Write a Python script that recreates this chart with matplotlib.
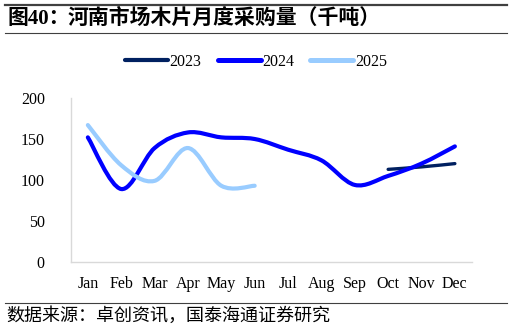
import numpy as np
import matplotlib.pyplot as plt
from matplotlib.path import Path
from matplotlib.patches import PathPatch
from matplotlib.lines import Line2D

months = ['Jan', 'Feb', 'Mar', 'Apr', 'May', 'Jun', 'Jul', 'Aug', 'Sep', 'Oct', 'Nov', 'Dec']
v2023 = [None, None, None, None, None, None, None, None, None, 113, 116, 120]
v2024 = [152, 89, 139, 158, 152, 150, 137, 124, 94, 105, 120, 141]
v2025 = [167, 118, 99, 139, 93, 93, None, None, None, None, None, None]

colors = {'2023': '#002060', '2024': '#0000FF', '2025': '#99CCFF'}
widths = {'2023': 2.4, '2024': 3.0, '2025': 3.0}

serif = ['Liberation Serif', 'Noto Sans CJK SC']


def smooth_path(xs, ys):
    # cubic bezier through the points, same tension as office "smoothed line"
    pts = np.column_stack([xs, ys]).astype(float)
    n = len(pts)
    verts = [pts[0]]
    codes = [Path.MOVETO]
    for i in range(n - 1):
        p0 = pts[i - 1] if i > 0 else pts[i]
        p1 = pts[i]
        p2 = pts[i + 1]
        p3 = pts[i + 2] if i + 2 < n else pts[i + 1]
        c1 = p1 + (p2 - p0) / 6.0
        c2 = p2 - (p3 - p1) / 6.0
        verts += [c1, c2, p2]
        codes += [Path.CURVE4] * 3
    return Path(verts, codes)


fig = plt.figure(figsize=(5.12, 3.30), dpi=100)
ax = fig.add_axes([0.139, 0.206, 0.782, 0.497])

series = [('2023', v2023), ('2024', v2024), ('2025', v2025)]
for name, vals in series:
    xs = [i for i, v in enumerate(vals) if v is not None]
    ys = [v for v in vals if v is not None]
    patch = PathPatch(smooth_path(xs, ys), facecolor='none', edgecolor=colors[name],
                      lw=widths[name], capstyle='round', joinstyle='round')
    ax.add_patch(patch)

ax.set_xlim(-0.5, 11.5)
ax.set_ylim(0, 200)
ax.set_yticks([0, 50, 100, 150, 200])
ax.set_xticks(range(12))
ax.set_xticklabels(months)
for s in ['top', 'right']:
    ax.spines[s].set_visible(False)
for s in ['left', 'bottom']:
    ax.spines[s].set_color('#D9D9D9')
    ax.spines[s].set_linewidth(1.0)
ax.tick_params(length=0, labelsize=11.5)
ax.tick_params(axis='y', pad=19)
ax.tick_params(axis='x', pad=10)
for lab in ax.get_xticklabels() + ax.get_yticklabels():
    lab.set_family(serif)

handles = [Line2D([], [], color=colors[n], lw=widths[n] + 0.6, solid_capstyle='round') for n, _ in series]
fig.legend(handles, [n for n, _ in series], loc='center', bbox_to_anchor=(0.5, 1 - 62 / 330),
           ncol=3, frameon=False, prop={'family': serif, 'size': 11.5},
           handlelength=2.7, handletextpad=0.1, columnspacing=1.0)

# header and footer rules
fig.add_artist(Line2D([0.01, 0.99], [1 - 5 / 330] * 2, color='#404040', lw=1.6))
fig.add_artist(Line2D([0.01, 0.99], [1 - 33 / 330] * 2, color='#404040', lw=0.8))
fig.add_artist(Line2D([0.01, 0.99], [1 - 302.5 / 330] * 2, color='#404040', lw=0.8))

fig.text(0.014, 1 - 19 / 330, '图40：', family=serif,
         fontsize=15, fontweight='bold', va='center', ha='left')
fig.text(68 / 512, 1 - 19 / 330, '河南市场木片月度采购量（千吨）', family=serif,
         fontsize=15, fontweight='bold', va='center', ha='left')
fig.text(0.012, 1 - 316 / 330, '数据来源：卓创资讯，国泰海通证券研究', family=['Noto Sans CJK SC'],
         fontsize=13, va='center', ha='left')

fig.savefig('out.png', dpi=100)
